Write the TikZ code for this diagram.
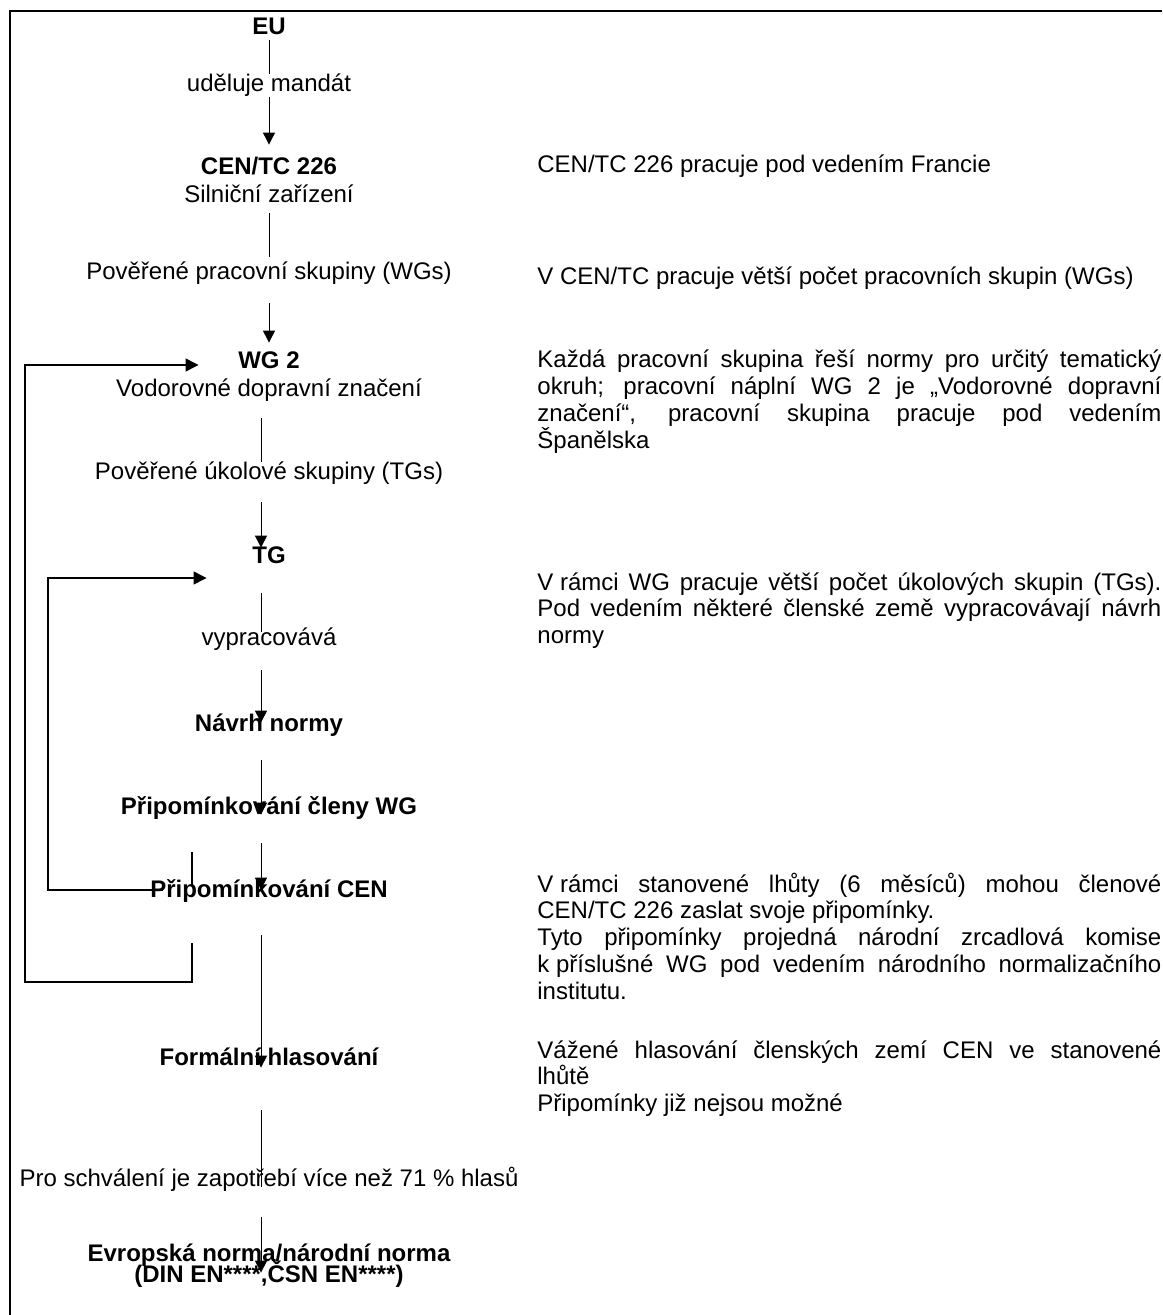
\documentclass[tikz,border=0pt]{standalone}
\usepackage{fontspec}
\setmainfont{Liberation Sans}
\usetikzlibrary{arrows.meta}

\begin{document}
\begin{tikzpicture}[x=0.5pt, y=-0.5pt,
  lbl/.style={font=\fontsize{12}{13.4}\selectfont, inner sep=0pt, text height=9pt, text depth=2.5pt, anchor=base},
  ttl/.style={lbl, font=\fontsize{12}{13.4}\selectfont\bfseries},
  note/.style={font=\fontsize{12}{13.4}\selectfont, inner sep=0pt, text width=312pt, align=justify, anchor=base west},
  link/.style={line width=0.5pt},
  flow/.style={link, -{Triangle[width=6pt,length=6pt]}},
  back/.style={line width=0.7pt},
  backflow/.style={back, -{Triangle[width=6.5pt,length=6.5pt]}}]

\useasboundingbox (0,0) rectangle (1162,1315);
\draw[line width=1pt] (1162,11) -- (10,11) -- (10,1315);

% main column
\node[ttl] (eu) at (269,35) {EU};
\node[lbl] (mandat) at (269,92) {uděluje mandát};
\node[ttl] (cen) at (269,175) {CEN/TC 226};
\node[lbl] (censub) at (269,203) {Silniční zařízení};
\node[lbl] (wgs) at (269,280) {Pověřené pracovní skupiny (WGs)};
\node[ttl] (wg) at (269,369) {WG 2};
\node[lbl] (wgsub) at (269,397) {Vodorovné dopravní značení};
\node[lbl] (tgs) at (269,480) {Pověřené úkolové skupiny (TGs)};
\node[ttl] (tg) at (269,563) {TG};
\node[lbl] (vyprac) at (269,645) {vypracovává};
\node[ttl] (navrh) at (269,731) {Návrh normy};
\node[ttl] (clenywg) at (269,814) {Připomínkování členy WG};
\node[ttl] (cenkom) at (269,897) {Připomínkování CEN};
\node[ttl] (formal) at (269,1065) {Formální hlasování};
\node[lbl] (schval) at (269,1186) {Pro schválení je zapotřebí více než 71 \% hlasů};
\node[ttl] (en) at (269,1261) {Evropská norma/národní norma};
\node[ttl] (ensub) at (269,1282) {(DIN EN****,ČSN EN****)};

% notes on the right
\node[note] (n1) at (537,173) {CEN/TC 226 pracuje pod vedením Francie};
\node[note] (n2) at (537,285) {V CEN/TC pracuje větší počet pracovních skupin (WGs)};
\node[note] (n3) at (537,368) {Každá pracovní skupina řeší normy pro určitý tematický\linebreak
  okruh; pracovní náplní WG 2 je „Vodorovné dopravní\linebreak
  značení“, pracovní skupina pracuje pod vedením\linebreak Španělska};
\node[note] (n4) at (537,590) {\mbox{V rámci} WG pracuje větší počet úkolových skupin (TGs).\linebreak
  Pod vedením některé členské země vypracovávají návrh\linebreak normy};
\node[note] (n5) at (537,892) {\mbox{V rámci} stanovené lhůty (6 měsíců) mohou členové\linebreak
  CEN/TC 226 zaslat svoje připomínky.\par
  Tyto připomínky projedná národní zrcadlová komise\linebreak
  \mbox{k příslušné} WG pod vedením národního normalizačního\linebreak institutu.};
\node[note] (n6) at (537,1058) {Vážené hlasování členských zemí CEN ve stanovené\linebreak
  lhůtě\par Připomínky již nejsou možné};

% connectors
\draw[link] (eu) -- (mandat);
\draw[flow, shorten >=6pt] (mandat) -- (cen);
\draw[link, shorten <=2.5pt, shorten >=2.5pt] (censub) -- (wgs);
\draw[flow, shorten <=9pt, shorten >=4pt] (wgs) -- (wg);

\begin{scope}[transform canvas={xshift=-4pt}]
\draw[link, shorten <=8pt] (wgsub) -- (tgs);
\draw[flow, shorten <=8.5pt, shorten >=-1.5pt] (tgs) -- (tg);
\draw[link, shorten <=12.5pt, shorten >=-2.5pt] (tg) -- (vyprac);
\draw[flow, shorten <=10pt, shorten >=-5pt] (vyprac) -- (navrh);
\draw[flow, shorten <=12pt, shorten >=-9.5pt] (navrh) -- (clenywg);
\draw[flow, shorten <=12pt, shorten >=-5.5pt] (clenywg) -- (cenkom);
\draw[flow, shorten <=16.5pt, shorten >=-10.5pt] (cenkom) -- (formal);
\draw[link, shorten <=20pt, shorten >=-9.5pt] (formal) -- (schval);
\draw[flow, shorten <=13pt, shorten >=-15pt] (schval) -- (en);
\end{scope}

% feedback loops
\coordinate (fbin) at (192,852);
\coordinate (fbinend) at (192,886);
\coordinate (fbleft) at (163,890);
\coordinate (fbout) at (192,943);
\coordinate (fbcorner) at (25,982);

\draw[back] (fbin) -- (fbinend);
\draw[backflow, shorten >=22.7pt] (fbleft) -- (48,890) |- ([yshift=-10.75pt]tg.west);
\draw[backflow, shorten >=19.7pt] (fbout) |- (fbcorner) |- ([yshift=-1.25pt]wg.west);

\end{tikzpicture}
\end{document}
